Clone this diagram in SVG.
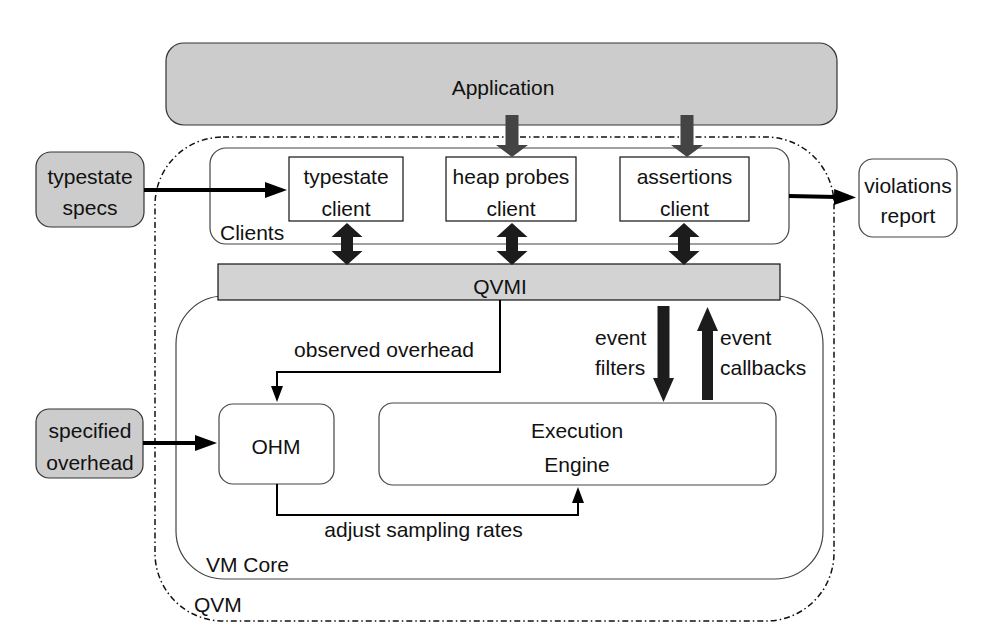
<svg xmlns="http://www.w3.org/2000/svg" width="981" height="636" viewBox="0 0 981 636">
<style>
text{font-family:"Liberation Sans",Arial,sans-serif;font-size:21px;fill:#111}
.c{text-anchor:middle}
.grey{fill:#cccccc;stroke:#333;stroke-width:1.2}
.box{fill:#fff;stroke:#111;stroke-width:1.2}
.rbox{fill:#fff;stroke:#444;stroke-width:1.2}
.ln{fill:none;stroke:#000}
.thick{stroke-width:4}
.thin{stroke-width:2}
.blk{fill:#1c1c1c}
.dk{fill:#444}
</style>
<defs>
<marker id="hBig" markerUnits="userSpaceOnUse" markerWidth="24" markerHeight="16" refX="2" refY="8" orient="auto">
<path d="M0,0 L22,8 L0,16 z" fill="#000"/>
</marker>
<marker id="hSmall" markerUnits="userSpaceOnUse" markerWidth="16" markerHeight="12" refX="2" refY="6" orient="auto">
<path d="M0,0 L16,6 L0,12 z" fill="#000"/>
</marker>
</defs>
<rect width="981" height="636" fill="#fff"/>

<g id="qvm">
<rect x="155" y="137" width="679" height="484" rx="68" ry="68" fill="none" stroke="#111" stroke-width="1.5" stroke-dasharray="6 3 1.5 3"/>
<text x="194" y="612">QVM</text>
</g>

<g id="application">
<rect class="grey" x="166" y="43" width="671" height="82" rx="18"/>
<text class="c" x="503" y="95">Application</text>
</g>

<g id="clients">
<rect class="rbox" x="210" y="148" width="579" height="96" rx="16"/>
<text x="220" y="240">Clients</text>
</g>

<g id="typestate-client">
<rect class="box" x="289" y="157" width="114" height="64"/>
<text class="c" x="346" y="184">typestate</text>
<text class="c" x="346" y="216">client</text>
</g>

<g id="heap-probes-client">
<rect class="box" x="446" y="157" width="130" height="64"/>
<text class="c" x="511" y="184">heap probes</text>
<text class="c" x="511" y="216">client</text>
</g>

<g id="assertions-client">
<rect class="box" x="620" y="157" width="129" height="64"/>
<text class="c" x="684.5" y="184">assertions</text>
<text class="c" x="684.5" y="216">client</text>
</g>

<g id="typestate-specs">
<rect class="grey" x="36" y="152" width="108" height="75" rx="15"/>
<text class="c" x="90" y="184">typestate</text>
<text class="c" x="90" y="215">specs</text>
</g>

<g id="violations-report">
<rect class="rbox" x="859" y="159" width="98" height="78" rx="14"/>
<text class="c" x="908" y="193">violations</text>
<text class="c" x="908" y="223">report</text>
</g>

<g id="vm-core">
<rect class="rbox" x="176" y="296" width="647" height="283" rx="48"/>
<text x="206" y="572">VM Core</text>
</g>

<g id="qvmi">
<rect x="218" y="264" width="562" height="36" fill="#d3d3d3" stroke="#111" stroke-width="1.2"/>
<text class="c" x="500" y="294">QVMI</text>
</g>

<g id="specified-overhead">
<rect class="grey" x="36" y="409" width="107" height="69" rx="13"/>
<text class="c" x="90" y="438">specified</text>
<text class="c" x="90" y="470">overhead</text>
</g>

<g id="ohm">
<rect class="rbox" x="219" y="404" width="115" height="80" rx="14"/>
<text class="c" x="276" y="454">OHM</text>
</g>

<g id="execution-engine">
<rect class="rbox" x="379" y="403" width="397" height="82" rx="14"/>
<text class="c" x="577" y="438">Execution</text>
<text class="c" x="577" y="472">Engine</text>
</g>

<g id="connectors">
<!-- application to clients -->
<polygon class="dk" points="505.5,115 518.5,115 518.5,145 528,145 512,157 496,145 505.5,145"/>
<polygon class="dk" points="680.5,115 693.5,115 693.5,145 703,145 687,157 671,145 680.5,145"/>
<!-- clients <-> QVMI -->
<polygon class="blk" points="347,223 362.5,237 353,237 353,251 362.5,251 347,265 331.5,251 341,251 341,237 331.5,237"/>
<polygon class="blk" points="512,223 527.5,237 518,237 518,251 527.5,251 512,265 496.5,251 506,251 506,237 496.5,237"/>
<polygon class="blk" points="684,223 699.5,237 690,237 690,251 699.5,251 684,265 668.5,251 678,251 678,237 668.5,237"/>
<!-- event filters / callbacks -->
<polygon class="blk" points="657.5,306 669.5,306 669.5,378 674,378 663.5,402 653,378 657.5,378"/>
<polygon class="blk" points="707.5,307 718,331 713,331 713,400 702,400 702,331 697,331"/>
<text x="595" y="345">event</text>
<text x="595" y="375">filters</text>
<text x="720" y="345">event</text>
<text x="720" y="375">callbacks</text>
<!-- typestate specs -> typestate client -->
<line class="ln thick" x1="144" y1="190" x2="267" y2="190" marker-end="url(#hBig)"/>
<!-- clients -> violations report -->
<line class="ln thick" x1="789" y1="196" x2="836" y2="197" marker-end="url(#hBig)"/>
<!-- specified overhead -> OHM -->
<line class="ln thick" x1="143" y1="443" x2="197" y2="443" marker-end="url(#hBig)"/>
<!-- observed overhead -->
<path class="ln thin" d="M500,300 V372 H277 V388" marker-end="url(#hSmall)"/>
<text class="c" x="384" y="357">observed overhead</text>
<!-- adjust sampling rates -->
<path class="ln thin" d="M277,484 V515 H578 V501" marker-end="url(#hSmall)"/>
<text class="c" x="423.5" y="537">adjust sampling rates</text>
</g>
</svg>
